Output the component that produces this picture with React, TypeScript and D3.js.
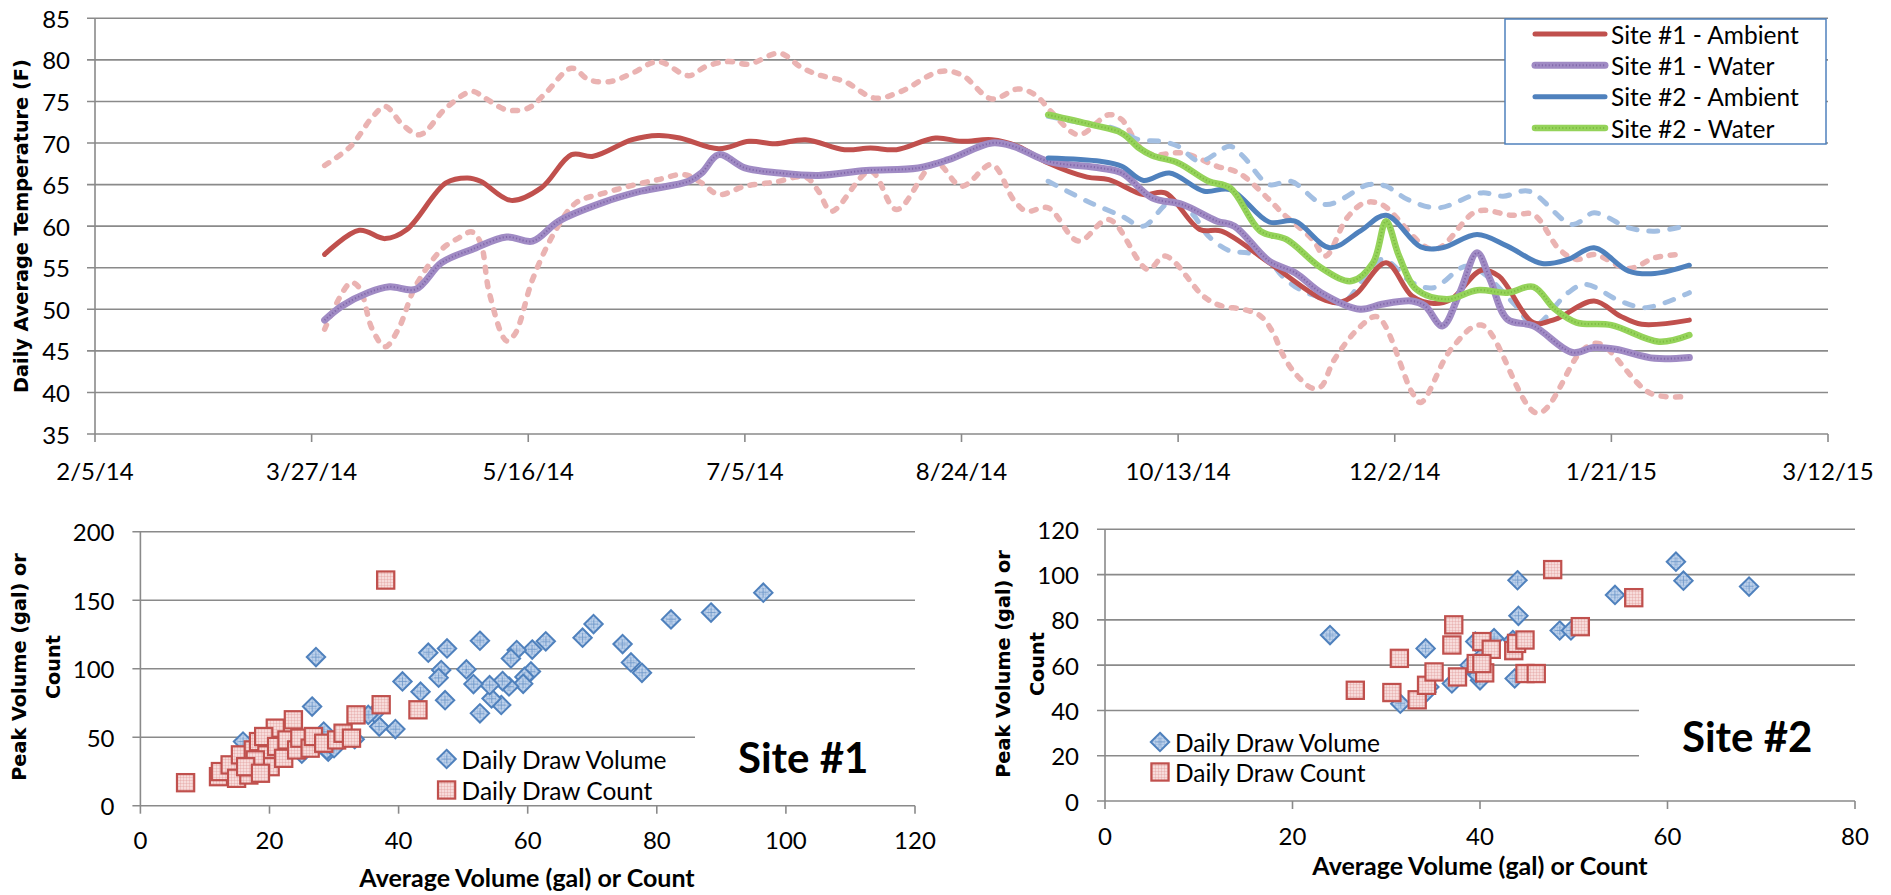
import React from "react";
import * as d3 from "d3";

const FONT = "Lato, 'Open Sans', Arial, sans-serif";
const TITLE_FONT = "'DejaVu Sans', Verdana, sans-serif";

// ---------- Top chart: daily average temperature ----------
const dateTickLabels = ["2/5/14", "3/27/14", "5/16/14", "7/5/14", "8/24/14", "10/13/14", "12/2/14", "1/21/15", "3/12/15"];
const tempTicks = [35, 40, 45, 50, 55, 60, 65, 70, 75, 80, 85];
const seriesNames = ["Site #1 - Ambient", "Site #1 - Water", "Site #2 - Ambient", "Site #2 - Water"];

// [days since 2/5/14, temperature F]
const site1Ambient: [number, number][] = [
  [53, 56.6], [61, 59.5], [67, 58.5], [72, 59.6], [81, 65.2], [86, 65.8], [89, 65.4], [96, 63.1], [103, 64.6],
  [110, 68.6], [115, 68.4], [124, 70.4], [130, 70.9], [135, 70.6], [144, 69.3], [151, 70.2], [157, 69.9], [164, 70.4],
  [173, 69.2], [179, 69.4], [185, 69.2], [194, 70.6], [200, 70.2], [207, 70.4], [213, 69.6], [220, 67.6], [229, 65.9],
  [234, 65.6], [242, 63.8], [247, 64.0], [255, 59.6], [260, 59.4], [271, 55.6], [283, 51.3], [287, 50.8], [291, 51.8],
  [298, 55.6], [304, 51.6], [309, 50.7], [313, 51.2], [320, 54.7], [324, 54.0], [332, 48.4], [337, 48.8], [346, 51.0],
  [352, 49.2], [357, 48.2], [368, 48.7],
];
const site1Water: [number, number][] = [
  [53, 48.7], [57, 50.4], [63, 52.0], [68, 52.7], [74, 52.4], [80, 55.6], [87, 57.2], [95, 58.7], [101, 58.2],
  [107, 60.6], [117, 62.8], [126, 64.2], [137, 65.4], [140, 66.4], [144, 68.6], [150, 67.0], [158, 66.4], [167, 66.1],
  [178, 66.7], [190, 67.0], [197, 68.0], [207, 70.0], [212, 69.6], [220, 67.8], [232, 67.0], [237, 66.4], [244, 63.4],
  [251, 62.6], [259, 60.6], [263, 60.0], [271, 55.8], [277, 54.4], [283, 52.0], [292, 50.0], [297, 50.6], [304, 51.0],
  [307, 50.4], [311, 48.0], [315, 52.0], [319, 56.8], [322, 53.6], [326, 48.8], [332, 48.0], [341, 44.8], [346, 45.4],
  [351, 45.2], [360, 44.1], [368, 44.2],
];
const site2Ambient: [number, number][] = [
  [220, 68.2], [232, 67.8], [237, 67.2], [242, 65.5], [248, 66.4], [256, 64.2], [262, 64.4], [271, 60.5], [277, 60.6],
  [285, 57.4], [292, 59.4], [298, 61.3], [306, 57.5], [311, 57.4], [319, 59.0], [326, 57.6], [334, 55.5], [340, 56.0],
  [346, 57.4], [354, 54.6], [360, 54.3], [368, 55.3],
];
const site2Water: [number, number][] = [
  [220, 73.4], [230, 72.2], [237, 71.2], [241, 69.4], [244, 68.5], [250, 67.6], [257, 65.4], [262, 64.6], [269, 59.4],
  [275, 58.4], [283, 55.0], [290, 53.4], [295, 55.6], [298, 60.6], [301, 56.4], [305, 52.4], [312, 51.2], [319, 52.3],
  [326, 52.0], [332, 52.7], [337, 50.0], [342, 48.4], [350, 48.1], [361, 46.1], [368, 46.9],
];
const site1Upper: [number, number][] = [
  [53, 67.3], [59, 69.6], [64, 73.1], [67, 74.4], [71, 72.2], [75, 71.0], [81, 74.2], [87, 76.2], [90, 75.4], [95, 74.0],
  [100, 74.2], [104, 76.0], [110, 79.0], [114, 77.6], [119, 77.4], [124, 78.4], [130, 79.8], [137, 78.1], [141, 79.2],
  [146, 79.8], [151, 79.5], [158, 80.8], [163, 79.1], [167, 78.2], [173, 77.4], [180, 75.4], [186, 76.2], [195, 78.6],
  [200, 78.2], [207, 75.3], [213, 76.5], [217, 75.8], [221, 73.6], [227, 71.0], [234, 73.4], [237, 72.8], [241, 69.6],
  [244, 68.6], [251, 68.8], [259, 67.2], [264, 66.4], [271, 63.2], [274, 61.6], [281, 58.4], [284, 56.4], [289, 61.0],
  [293, 62.8], [297, 62.6], [309, 57.2], [319, 61.8], [327, 61.3], [332, 61.4], [338, 57.2], [342, 56.0], [346, 56.6],
  [354, 54.9], [360, 56.2], [366, 56.6],
];
const site1Lower: [number, number][] = [
  [53, 47.6], [59, 53.2], [61, 52.6], [64, 47.6], [67, 45.5], [70, 47.6], [74, 52.8], [80, 57.2], [84, 58.6], [87, 59.3],
  [89, 58.0], [91, 52.0], [95, 46.2], [97, 47.1], [101, 53.6], [106, 59.2], [111, 62.8], [117, 63.9], [124, 64.9],
  [130, 65.6], [136, 66.2], [140, 65.2], [144, 63.8], [150, 64.8], [157, 65.3], [164, 65.9], [167, 64.2], [170, 61.8],
  [179, 66.6], [185, 62.0], [194, 67.6], [200, 64.8], [207, 67.4], [212, 63.2], [215, 61.8], [220, 62.2], [227, 58.2],
  [234, 60.8], [243, 54.8], [247, 56.4], [256, 51.5], [260, 50.4], [265, 50.0], [269, 49.2], [272, 47.1], [274, 44.7],
  [277, 42.3], [281, 40.5], [283, 40.7], [286, 43.9], [292, 47.9], [296, 49.1], [304, 40.0], [306, 38.8], [313, 45.2],
  [320, 48.1], [333, 37.5], [343, 44.9], [347, 45.9], [359, 39.9], [367, 39.5],
];
const site2Upper: [number, number][] = [
  [220, 73.2], [230, 72.2], [235, 71.8], [241, 70.4], [246, 70.2], [250, 69.6], [255, 67.8], [262, 69.6], [265, 68.4],
  [271, 65.0], [276, 65.4], [284, 62.6], [294, 65.0], [298, 64.8], [303, 63.2], [310, 62.2], [320, 64.0], [325, 63.6],
  [331, 64.2], [341, 60.2], [346, 61.6], [354, 59.8], [360, 59.4], [367, 60.0],
];
const site2Lower: [number, number][] = [
  [220, 65.4], [229, 63.0], [237, 61.2], [242, 60.0], [248, 62.8], [253, 61.6], [257, 58.8], [262, 57.0], [266, 56.8],
  [271, 55.8], [274, 54.0], [278, 52.4], [283, 51.4], [288, 50.8], [297, 56.0], [304, 53.2], [309, 52.6], [317, 55.2],
  [328, 50.4], [332, 48.0], [340, 52.0], [344, 53.0], [352, 51.0], [358, 50.2], [368, 52.0],
];

// ---------- Bottom scatter charts: [average, peak] ----------
const site1Volume: [number, number][] = [
  [96.5, 155.5], [88.4, 141], [82.2, 136], [70.2, 132.6], [68.5, 122.6], [74.7, 118], [76, 104.6], [77.7, 97], [62.8, 120],
  [60.7, 114], [60.5, 98], [59.5, 94], [59.3, 89], [58.3, 113.6], [57.4, 107.5], [57.1, 87], [56.1, 91], [55.9, 73.5],
  [54.4, 78.3], [54.1, 88], [52.6, 120.4], [52.6, 67.4], [51.6, 88.8], [50.5, 99.5], [47.5, 114.8], [47.2, 77], [46.6, 99],
  [46.2, 93.4], [44.6, 111.7], [43.4, 83.2], [40.6, 90.7], [39.5, 55.9], [37, 57.8], [36.3, 67.6], [35.3, 66.3],
  [33.2, 48.5], [29.1, 39.4], [28.4, 54.1], [28.9, 40.7], [29.8, 44.3], [27.2, 108.5], [26.6, 72.4], [15.9, 46.8],
  [22, 40], [24, 45], [18, 35], [20, 42], [25, 38], [30, 42],
];
const site1Count: [number, number][] = [
  [38, 164.7], [37.3, 73.7], [43, 70], [33.4, 66.3], [23.7, 62.7], [20.9, 56.6], [7, 16.8], [12.1, 21.2], [12.4, 24.9],
  [13.9, 29.8], [15.5, 37.1], [14.9, 20], [16.8, 22.4], [17, 28.5], [17.5, 40.7], [18.3, 46.8], [19.1, 50.5], [19.6, 37.1],
  [20.1, 28.5], [21.1, 43.2], [22.2, 34.6], [22.7, 48], [24.2, 40.7], [24.7, 49.3], [26.3, 42], [26.8, 50.5], [28.4, 45.6],
  [30.4, 48], [31.4, 52.9], [32.7, 49.3], [17.8, 33.4], [16.3, 28.5], [18.6, 23.7],
];
const site2Volume: [number, number][] = [
  [60.9, 105.7], [61.7, 97.3], [68.7, 94.7], [54.4, 91], [44, 97.5], [44.1, 81.8], [24, 73.3], [34.2, 67.4], [48.5, 75.3],
  [49.7, 75.3], [39.5, 70.4], [41.5, 71.9], [43.5, 71.1], [43.7, 54.1], [40, 53.3], [39.6, 56.3], [38.9, 60], [37, 51.9],
  [34.6, 50.4], [34.3, 48.1], [31.5, 43], [40.2, 63.7],
];
const site2Count: [number, number][] = [
  [47.75, 102.2], [56.4, 89.8], [50.7, 77], [37.2, 77.8], [37, 68.9], [31.4, 63], [26.7, 48.9], [30.6, 47.9], [33.3, 44.7],
  [34.3, 51.1], [35.1, 57], [37.6, 54.8], [40.2, 70.4], [41.2, 67], [39.6, 60.7], [40.5, 56.6], [43.6, 66.4], [43.9, 69.6],
  [44.8, 71.1], [44.8, 56.3], [46, 56.3], [40.2, 60.7],
];
const scatterLegend = ["Daily Draw Volume", "Daily Draw Count"];

function parseMDY(s: string) {
  const [m, d, y] = s.split("/").map(Number);
  return new Date(2000 + y, m - 1, d);
}

const GRID = "#8A8A8A";

type LineStyle = { kind: "solid" | "texture" | "dash"; color: string; over?: string; width: number; dash?: string };

function StyledPath({ d, s }: { d: string; s: LineStyle }) {
  if (s.kind === "solid") return <path d={d} fill="none" stroke={s.color} strokeWidth={s.width} strokeLinejoin="round" strokeLinecap="round" />;
  if (s.kind === "texture")
    return (
      <g>
        <path d={d} fill="none" stroke={s.color} strokeWidth={s.width} strokeLinejoin="round" strokeLinecap="round" />
        <path d={d} fill="none" stroke={s.over} strokeWidth={2} strokeDasharray="1.2 2.2" opacity={0.7} />
      </g>
    );
  return (
    <g>
      <path d={d} fill="none" stroke={s.color} strokeWidth={s.width} strokeDasharray={s.dash} strokeLinecap="round" strokeLinejoin="round" />
      {s.over ? <path d={d} fill="none" stroke={s.over} strokeWidth={1.6} strokeDasharray="1 2" opacity={0.5} /> : null}
    </g>
  );
}

function TopChart() {
  const tickDates = dateTickLabels.map(parseMDY);
  const base = tickDates[0];
  const x = d3.scaleTime().domain([tickDates[0], tickDates[tickDates.length - 1]]).range([95, 1828]);
  const y = d3.scaleLinear().domain([35, 85]).range([434, 18.3]);
  const line = d3
    .line<[number, number]>()
    .x((d) => x(d3.timeDay.offset(base, d[0])))
    .y((d) => y(d[1]))
    .curve(d3.curveCatmullRom.alpha(0.5));

  const pinkDash: LineStyle = { kind: "dash", color: "#EAB3B2", width: 5.5, dash: "5 9.5" };
  const blueDash: LineStyle = { kind: "dash", color: "#A3BFE2", width: 5, dash: "9 12" };
  const styles: LineStyle[] = [
    { kind: "solid", color: "#C0504D", width: 5 },
    { kind: "texture", color: "#A08BC4", over: "#7558A0", width: 7 },
    { kind: "solid", color: "#4F81BD", width: 5 },
    { kind: "texture", color: "#95D35A", over: "#74B23A", width: 6.5 },
  ];
  const mainSeries = [site1Ambient, site1Water, site2Ambient, site2Water];
  const [x0, x1] = x.range();
  const legend = { x: 1505, y: 19, w: 321, h: 125 };
  const legendRow = d3.scalePoint<number>().domain([0, 1, 2, 3]).range([34, 128]);

  return (
    <g>
      {tempTicks.map((t) => (
        <g key={t}>
          <line x1={x0 - 8} x2={x1} y1={y(t)} y2={y(t)} stroke={GRID} strokeWidth={1.6} />
          <text x={70} y={y(t)} textAnchor="end" dominantBaseline="central" fontFamily={FONT} fontSize={24} fill="#000">
            {t}
          </text>
        </g>
      ))}
      <line x1={x0} x2={x0} y1={y(85)} y2={y(35)} stroke={GRID} strokeWidth={1.6} />
      {tickDates.map((d, i) => (
        <g key={i}>
          <line x1={x(d)} x2={x(d)} y1={y(35)} y2={y(35) + 8} stroke={GRID} strokeWidth={1.6} />
          <text x={x(d)} y={470} textAnchor="middle" dominantBaseline="central" fontFamily={FONT} fontSize={24} fill="#000">
            {dateTickLabels[i]}
          </text>
        </g>
      ))}
      <text
        transform={`translate(28,${(y(35) + y(85)) / 2}) rotate(-90)`}
        textAnchor="middle"
        fontFamily={TITLE_FONT}
        fontWeight="bold"
        fontSize={19.3}
        fill="#000"
      >
        Daily Average Temperature (F)
      </text>

      <StyledPath d={line(site1Upper) || ""} s={pinkDash} />
      <StyledPath d={line(site1Lower) || ""} s={pinkDash} />
      <StyledPath d={line(site2Upper) || ""} s={blueDash} />
      <StyledPath d={line(site2Lower) || ""} s={blueDash} />
      {mainSeries.map((s, i) => (
        <StyledPath key={i} d={line(s) || ""} s={styles[i]} />
      ))}

      <rect x={legend.x} y={legend.y} width={legend.w} height={legend.h} fill="#fff" stroke="#4F81BD" strokeWidth={1.5} />
      {seriesNames.map((n, i) => (
        <g key={n}>
          <StyledPath d={`M1535,${legendRow(i)}H1605`} s={styles[i]} />
          <text x={1611} y={legendRow(i)} dominantBaseline="central" fontFamily={FONT} fontSize={24.5} fill="#000">
            {n}
          </text>
        </g>
      ))}
    </g>
  );
}

type ScatterCfg = {
  left: number; right: number; top: number; bottom: number;
  xMax: number; xStep: number; yMax: number; yStep: number;
  yLabelX: number; xLabelY: number;
  volume: [number, number][]; count: [number, number][];
  legendX: number; legendRows: [number, number];
  box: [number, number, number, number];
  siteText: string; siteX: number; siteY: number;
  yTitleX: [number, number]; yTitleY: number;
  xTitleX: number; xTitleY: number;
};

function Diamond({ cx, cy }: { cx: number; cy: number }) {
  const r = 9.2;
  return (
    <g>
      <path d={`M${cx},${cy - r}L${cx + r},${cy}L${cx},${cy + r}L${cx - r},${cy}Z`} fill="url(#blueGrid)" stroke="#4F81BD" strokeWidth={2} />
      <path d={`M${cx - r / 2},${cy}H${cx + r / 2}M${cx},${cy - r / 2}V${cy + r / 2}`} stroke="#4F81BD" strokeWidth={0.8} opacity={0.6} />
    </g>
  );
}
function Square({ cx, cy }: { cx: number; cy: number }) {
  const h = 8.6;
  return <rect x={cx - h} y={cy - h} width={2 * h} height={2 * h} fill="url(#redGrid)" stroke="#C0504D" strokeWidth={2.2} />;
}

function Scatter({ c }: { c: ScatterCfg }) {
  const x = d3.scaleLinear().domain([0, c.xMax]).range([c.left, c.right]);
  const y = d3.scaleLinear().domain([0, c.yMax]).range([c.bottom, c.top]);
  const xt = d3.range(0, c.xMax + 0.001, c.xStep);
  const yt = d3.range(0, c.yMax + 0.001, c.yStep);
  const [bx, by, bw, bh] = c.box;
  return (
    <g>
      {yt.map((t) => (
        <g key={t}>
          <line x1={c.left - 8} x2={c.right} y1={y(t)} y2={y(t)} stroke={GRID} strokeWidth={1.6} />
          <text x={c.yLabelX} y={y(t)} textAnchor="end" dominantBaseline="central" fontFamily={FONT} fontSize={24} fill="#000">
            {t}
          </text>
        </g>
      ))}
      <line x1={c.left} x2={c.left} y1={c.top} y2={c.bottom} stroke={GRID} strokeWidth={1.6} />
      {xt.map((t) => (
        <g key={t}>
          <line x1={x(t)} x2={x(t)} y1={c.bottom} y2={c.bottom + 8} stroke={GRID} strokeWidth={1.6} />
          <text x={x(t)} y={c.xLabelY} textAnchor="middle" dominantBaseline="central" fontFamily={FONT} fontSize={24} fill="#000">
            {t}
          </text>
        </g>
      ))}
      {c.volume.map((d, i) => (
        <Diamond key={"v" + i} cx={x(d[0])} cy={y(d[1])} />
      ))}
      {c.count.map((d, i) => (
        <Square key={"c" + i} cx={x(d[0])} cy={y(d[1])} />
      ))}
      <rect x={bx} y={by} width={bw} height={bh} fill="#fff" />
      <text x={c.siteX} y={c.siteY} fontFamily={FONT} fontWeight="bold" fontSize={42} fill="#000">
        {c.siteText}
      </text>
      <Diamond cx={c.legendX} cy={c.legendRows[0]} />
      <Square cx={c.legendX} cy={c.legendRows[1]} />
      {scatterLegend.map((n, i) => (
        <text key={n} x={c.legendX + 15} y={c.legendRows[i]} dominantBaseline="central" fontFamily={FONT} fontSize={24.5} fill="#000">
          {n}
        </text>
      ))}
      <text transform={`translate(${c.yTitleX[0]},${c.yTitleY}) rotate(-90)`} textAnchor="middle" fontFamily={TITLE_FONT} fontWeight="bold" fontSize={19.3} fill="#000">
        Peak Volume (gal) or
      </text>
      <text transform={`translate(${c.yTitleX[1]},${c.yTitleY}) rotate(-90)`} textAnchor="middle" fontFamily={TITLE_FONT} fontWeight="bold" fontSize={19.3} fill="#000">
        Count
      </text>
      <text x={c.xTitleX} y={c.xTitleY} textAnchor="middle" fontFamily={FONT} fontWeight="bold" fontSize={25} fill="#000">
        Average Volume (gal) or Count
      </text>
    </g>
  );
}

export default function App() {
  const s1: ScatterCfg = {
    left: 140.4, right: 915, top: 531.7, bottom: 805.7, xMax: 120, xStep: 20, yMax: 200, yStep: 50,
    yLabelX: 114.5, xLabelY: 839, volume: site1Volume, count: site1Count,
    legendX: 446.6, legendRows: [759, 790], box: [695, 722, 220, 79],
    siteText: "Site #1", siteX: 738, siteY: 773, yTitleX: [26, 60], yTitleY: 667,
    xTitleX: 527, xTitleY: 887,
  };
  const s2: ScatterCfg = {
    left: 1105, right: 1855, top: 529.3, bottom: 801, xMax: 80, xStep: 20, yMax: 120, yStep: 20,
    yLabelX: 1079, xLabelY: 835, volume: site2Volume, count: site2Count,
    legendX: 1160, legendRows: [742, 772], box: [1639, 695, 216, 103],
    siteText: "Site #2", siteX: 1682, siteY: 752, yTitleX: [1010, 1044], yTitleY: 664,
    xTitleX: 1480, xTitleY: 875,
  };
  return (
    <svg width={1891} height={895} style={{ position: "absolute", left: 0, top: 0, background: "#fff" }}>
      <defs>
        <pattern id="blueGrid" width="3" height="3" patternUnits="userSpaceOnUse">
          <rect width="3" height="3" fill="#BCD0EA" />
          <path d="M0,0H3M0,0V3" stroke="#7FA2D2" strokeWidth="0.6" />
        </pattern>
        <pattern id="redGrid" width="3" height="3" patternUnits="userSpaceOnUse">
          <rect width="3" height="3" fill="#F7DCDB" />
          <path d="M0,0H3M0,0V3" stroke="#DC8E8C" strokeWidth="0.6" />
        </pattern>
      </defs>
      <rect width={1891} height={895} fill="#fff" />
      <TopChart />
      <Scatter c={s1} />
      <Scatter c={s2} />
    </svg>
  );
}
